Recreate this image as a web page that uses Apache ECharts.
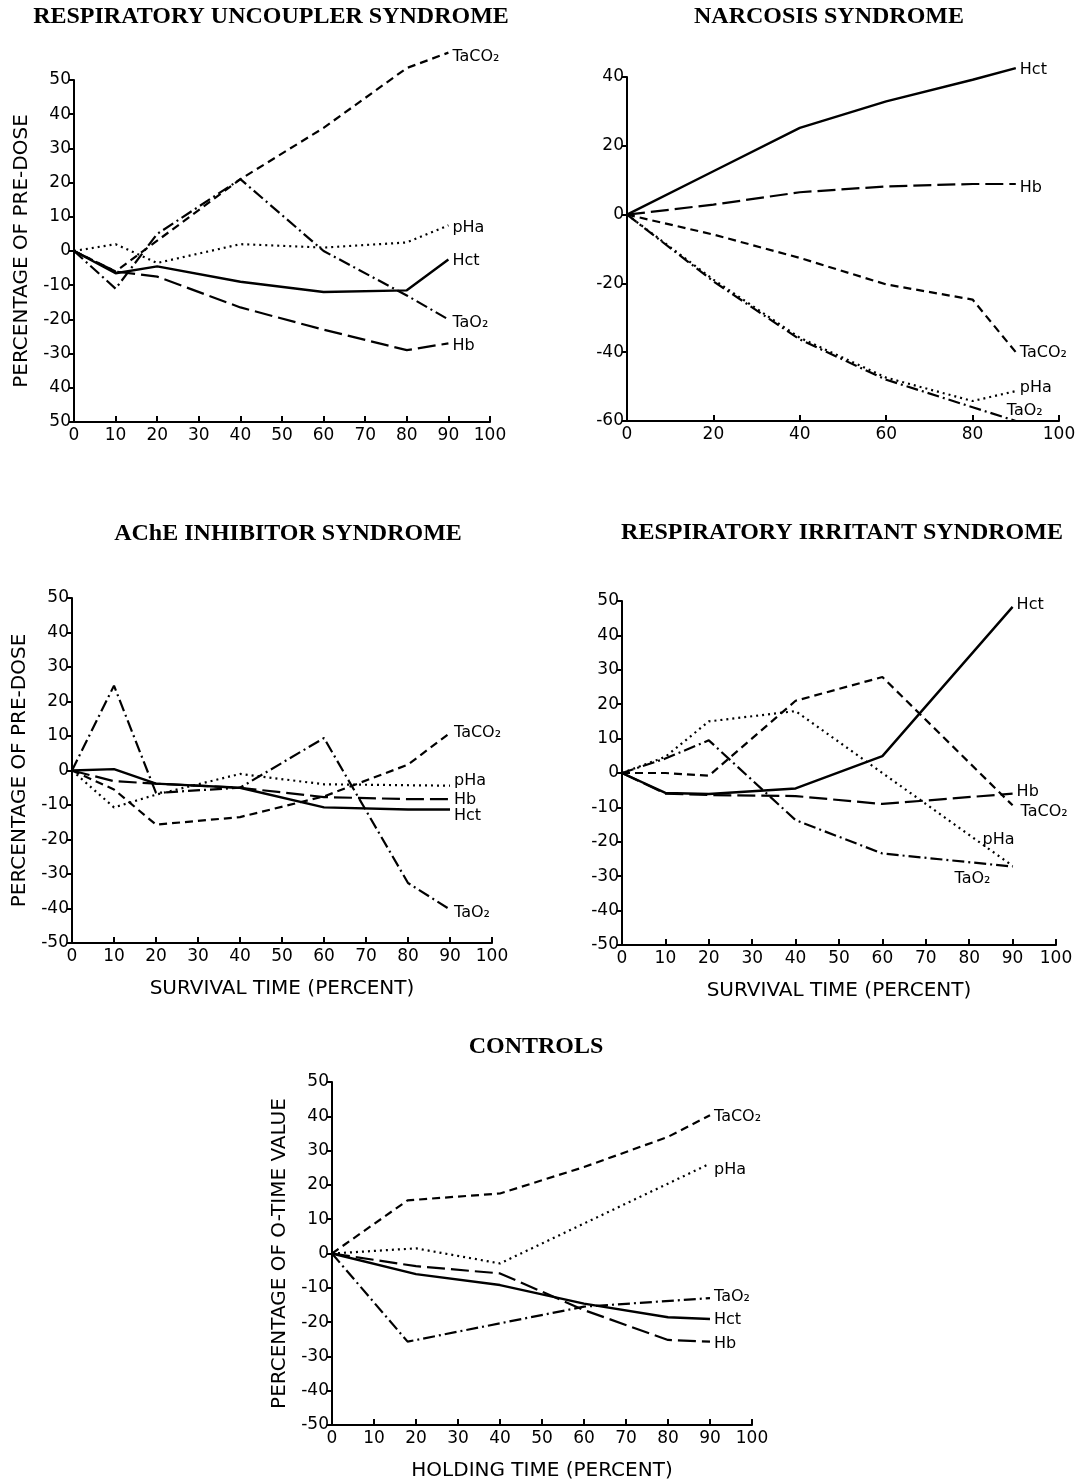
<!DOCTYPE html>
<html><head><meta charset="utf-8">
<script src="https://cdn.jsdelivr.net/npm/echarts/dist/echarts.min.js"></script>
<style>html,body{margin:0;padding:0;background:#fff}#c{width:1083px;height:1483px}</style>
</head><body><div id="c"></div><script>
// ---------- DATA ----------
// Panel 1: Respiratory uncoupler syndrome
const uncX      = [0, 10, 20, 40, 60, 80, 90];
const uncHct    = [0, -6.5, -4.5, -9, -12, -11.5, -2.5];
const uncHb     = [0, -6, -7.5, -16.5, -23, -29, -27];
const uncTaCO2  = [0, -6, 3, 21, 36, 53.5, 58];
const uncPHa    = [0, 2, -3.5, 2, 1, 2.5, 7.5];
const uncTaO2   = [0, -11, 5, 21, 0, -13, -20];
// Panel 2: Narcosis syndrome
const narX      = [0, 20, 40, 60, 80, 90];
const narHct    = [0, 12.6, 25.2, 32.9, 39.2, 42.6];
const narHb     = [0, 2.9, 6.5, 8.2, 8.9, 8.9];
const narTaCO2  = [0, -5.8, -12.6, -20.3, -24.7, -40];
const narPHa    = [0, -18.9, -35.8, -47.4, -54.2, -51.3];
const narTaO2   = [0, -19.4, -36.3, -48, -56, -60];
// Panel 3: AChE inhibitor syndrome
const acheX     = [0, 10, 20, 40, 60, 80, 90];
const acheHct   = [0, 0.4, -3.8, -5, -10.7, -11.3, -11.3];
const acheHb    = [0, -3.1, -3.8, -5, -7.7, -8.3, -8.3];
const acheTaCO2 = [0, -5.5, -15.7, -13.5, -7.5, 1.7, 10.9];
const achePHa   = [0, -10.7, -7, -1, -4, null, -4.4];
const acheTaO2  = [0, 24.6, -6.5, -5, 9.4, -32.6, -40.3];
// Panel 4: Respiratory irritant syndrome
const irrX      = [0, 10, 20, 40, 60, 80, 90];
const irrHct    = [0, -5.8, -6.1, -4.5, 4.9, null, 48.3];
const irrHb     = [0, -6, -6.4, -6.7, -9, null, -6];
const irrTaCO2  = [0, 0, -0.8, 21, 27.9, null, -9.4];
const irrPHa    = [0, 4.7, 15, 18, null, null, -27];
const irrTaO2   = [0, 4.2, 9.5, -13.7, -23.4, null, -27.2];
// Panel 5: Controls
const ctlX      = [0, 18, 20, 40, 60, 80, 90];
const ctlHct    = [0, null, -6, -9.2, -14.6, -18.6, -19.1];
const ctlHb     = [0, null, -3.7, -5.8, -16.5, -25.2, -25.7];
const ctlTaCO2  = [0, 15.5, null, 17.5, 25.2, 34, 40.3];
const ctlPHa    = [0, null, 1.5, -2.9, null, null, 26.2];
const ctlTaO2   = [0, -25.7, null, null, -15.5, null, -13];

const titles = ['RESPIRATORY UNCOUPLER SYNDROME', 'NARCOSIS SYNDROME', 'AChE INHIBITOR SYNDROME', 'RESPIRATORY IRRITANT SYNDROME', 'CONTROLS'];

// ---------- STYLE ----------
const SANS = 'DejaVu Sans';
const dash = {
  Hct:   { type: 'solid', width: 2.4 },
  Hb:    { type: [18, 6], width: 2.2 },
  TaCO2: { type: [8, 5], width: 2.2 },
  pHa:   { type: [2, 4], width: 2.2 },
  TaO2:  { type: [12, 4, 2, 4], width: 2.2 }
};
const labelText = { Hct: 'Hct', Hb: 'Hb', TaCO2: 'TaCO₂', pHa: 'pHa', TaO2: 'TaO₂' };

function series(p, key, xs, ys, off) {
  const data = [];
  xs.forEach((x, i) => { if (ys[i] !== null && ys[i] !== undefined) data.push([x, ys[i]]); });
  return {
    type: 'line', name: labelText[key] + p, xAxisIndex: p, yAxisIndex: p,
    data, symbol: 'none', clip: false, silent: true,
    lineStyle: Object.assign({ color: '#000' }, dash[key]),
    endLabel: { show: true, formatter: labelText[key], color: '#000', fontFamily: SANS, fontSize: 16, distance: 4, offset: off || [0, 0] }
  };
}

const grids = [
  { left: 74, top: 80, width: 416, height: 342 },
  { left: 627, top: 77, width: 432, height: 344 },
  { left: 72, top: 598, width: 420, height: 345 },
  { left: 622, top: 601, width: 434, height: 344 },
  { left: 332, top: 1082, width: 420, height: 343 }
];

const axLine = { show: true, onZero: false, lineStyle: { color: '#000', width: 2 } };
function xAx(i, interval, name) {
  return {
    type: 'value', gridIndex: i, min: 0, max: 100, interval,
    axisLine: axLine,
    axisTick: { show: true, inside: true, length: 6, lineStyle: { color: '#000', width: 2 } },
    axisLabel: { color: '#000', fontFamily: SANS, fontSize: 17, margin: 5 },
    splitLine: { show: false },
    name: name || '', nameLocation: 'middle', nameGap: 36,
    nameTextStyle: { color: '#000', fontFamily: SANS, fontSize: 20 }
  };
}
function yAx(i, min, max, interval, name, fmt) {
  return {
    type: 'value', gridIndex: i, min, max, interval,
    axisLine: axLine,
    axisTick: { show: true, inside: false, length: 5, lineStyle: { color: '#000', width: 2 } },
    axisLabel: { color: '#000', fontFamily: SANS, fontSize: 17, margin: 3, formatter: fmt },
    splitLine: { show: false },
    name: name || '', nameLocation: 'middle', nameGap: 42,
    nameTextStyle: { color: '#000', fontFamily: SANS, fontSize: 20 }
  };
}

const titlePos = [[271, 17], [829, 17], [288, 534], [842, 533], [536, 1047]];
const graphic = titles.map((t, i) => ({
  type: 'text', x: titlePos[i][0], y: titlePos[i][1],
  style: { text: t, font: 'bold 24px "Liberation Serif"', fill: '#000', align: 'center', verticalAlign: 'middle', textAlign: 'center', textVerticalAlign: 'middle' }
}));

const option = {
  animation: false,
  backgroundColor: '#fff',
  graphic,
  grid: grids,
  xAxis: [
    xAx(0, 10), xAx(1, 20), xAx(2, 10, 'SURVIVAL TIME (PERCENT)'), xAx(3, 10, 'SURVIVAL TIME (PERCENT)'), xAx(4, 10, 'HOLDING TIME (PERCENT)')
  ],
  yAxis: [
    yAx(0, -50, 50, 10, 'PERCENTAGE OF PRE-DOSE', v => (v < -30 ? String(-v) : String(v))),
    yAx(1, -60, 40, 20),
    yAx(2, -50, 50, 10, 'PERCENTAGE OF PRE-DOSE'),
    yAx(3, -50, 50, 10),
    yAx(4, -50, 50, 10, 'PERCENTAGE OF O-TIME VALUE')
  ],
  series: [
    series(0, 'Hct', uncX, uncHct, [0, 1]),
    series(0, 'Hb', uncX, uncHb, [0, 3]),
    series(0, 'TaCO2', uncX, uncTaCO2, [0, 4]),
    series(0, 'pHa', uncX, uncPHa, [0, 2]),
    series(0, 'TaO2', uncX, uncTaO2, [0, 3]),

    series(1, 'Hct', narX, narHct, [0, 2]),
    series(1, 'Hb', narX, narHb, [0, 4]),
    series(1, 'TaCO2', narX, narTaCO2, [0, 1]),
    series(1, 'pHa', narX, narPHa, [0, -3]),
    series(1, 'TaO2', narX, narTaO2, [-13, -10]),

    series(2, 'Hct', acheX, acheHct, [0, 6]),
    series(2, 'Hb', acheX, acheHb, [0, 1]),
    series(2, 'TaCO2', acheX, acheTaCO2, [0, 0]),
    series(2, 'pHa', acheX, achePHa, [0, -5]),
    series(2, 'TaO2', acheX, acheTaO2, [0, 3]),

    series(3, 'Hct', irrX, irrHct, [0, -2]),
    series(3, 'Hb', irrX, irrHb, [0, -2]),
    series(3, 'TaCO2', irrX, irrTaCO2, [4, 7]),
    series(3, 'pHa', irrX, irrPHa, [-34, -26]),
    series(3, 'TaO2', irrX, irrTaO2, [-62, 12]),

    series(4, 'Hct', ctlX, ctlHct, [0, 1]),
    series(4, 'Hb', ctlX, ctlHb, [0, 2]),
    series(4, 'TaCO2', ctlX, ctlTaCO2, [0, 2]),
    series(4, 'pHa', ctlX, ctlPHa, [0, 6]),
    series(4, 'TaO2', ctlX, ctlTaO2, [0, -1])
  ]
};
const chart = echarts.init(document.getElementById('c'), null, { renderer: 'canvas' });
chart.setOption(option);
</script></body></html>
